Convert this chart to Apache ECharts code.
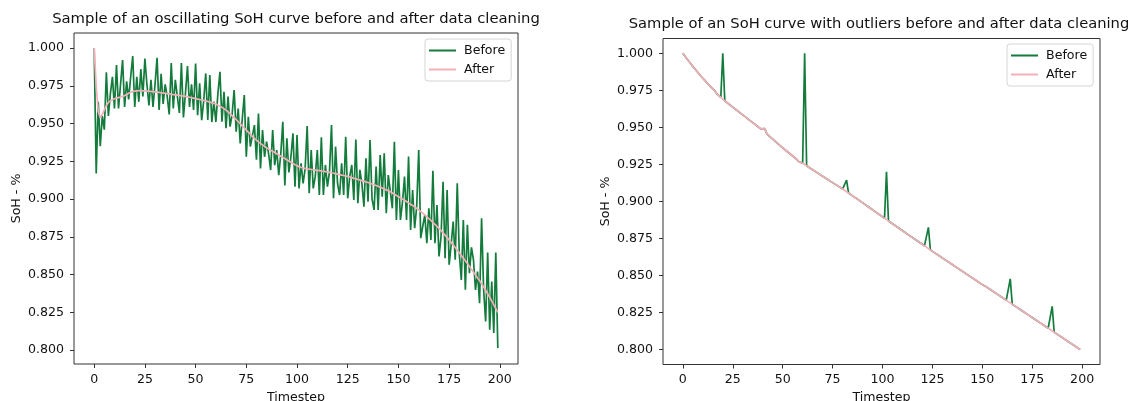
<!DOCTYPE html>
<html lang="en">
<head>
    <meta charset="UTF-8">
    <title>SoH cleaning</title>
    <script src="https://cdn.jsdelivr.net/npm/echarts@6/dist/echarts.min.js"></script>
    <style>
        html, body { margin: 0; padding: 0; background: #fff; }
        #main { width: 1132px; height: 401px; }
    </style>
</head>
<body>
<div id="main"></div>
<script>
    // oscillating curve, timesteps 0..199
    var oscBefore = [
        1.0000, 0.9170, 0.9644, 0.9350, 0.9550, 0.9460, 0.9840, 0.9550, 0.9700, 0.9810,
        0.9600, 0.9887, 0.9600, 0.9760, 0.9920, 0.9610, 0.9780, 0.9660, 0.9810, 0.9947,
        0.9610, 0.9810, 0.9644, 0.9860, 0.9680, 0.9930, 0.9760, 0.9620, 0.9790, 0.9610,
        0.9760, 0.9936, 0.9590, 0.9830, 0.9630, 0.9760, 0.9680, 0.9560, 0.9900, 0.9600,
        0.9790, 0.9680, 0.9570, 0.9900, 0.9540, 0.9700, 0.9880, 0.9610, 0.9760, 0.9590,
        0.9898, 0.9556, 0.9766, 0.9523, 0.9650, 0.9832, 0.9523, 0.9821, 0.9510, 0.9645,
        0.9510, 0.9700, 0.9843, 0.9512, 0.9711, 0.9470, 0.9678, 0.9480, 0.9560, 0.9722,
        0.9446, 0.9600, 0.9369, 0.9530, 0.9689, 0.9280, 0.9545, 0.9348, 0.9420, 0.9490,
        0.9260, 0.9567, 0.9203, 0.9457, 0.9280, 0.9380, 0.9300, 0.9192, 0.9457, 0.9225,
        0.9325, 0.9159, 0.9300, 0.9512, 0.9090, 0.9403, 0.9176, 0.9280, 0.9435, 0.9082,
        0.9424, 0.9071, 0.9237, 0.9104, 0.9200, 0.9483, 0.9038, 0.9325, 0.9071, 0.9150,
        0.9325, 0.9027, 0.9409, 0.9027, 0.9226, 0.9082, 0.9180, 0.9490, 0.9005, 0.9347,
        0.9100, 0.9027, 0.9237, 0.9027, 0.9413, 0.9005, 0.9150, 0.9226, 0.8994, 0.9395,
        0.8972, 0.9193, 0.9100, 0.8950, 0.9270, 0.8983, 0.9391, 0.9000, 0.8928, 0.9215,
        0.8928, 0.9292, 0.9016, 0.9303, 0.8906, 0.9159, 0.9050, 0.8939, 0.9380, 0.8862,
        0.9193, 0.8862, 0.8980, 0.9149, 0.8862, 0.9281, 0.8796, 0.9060, 0.8807, 0.8950,
        0.9325, 0.8741, 0.8820, 0.8895, 0.8708, 0.8939, 0.8730, 0.9188, 0.8708, 0.8961,
        0.8620, 0.8750, 0.9115, 0.8609, 0.9060, 0.8565, 0.8700, 0.8851, 0.8598, 0.9104,
        0.8640, 0.8465, 0.8862, 0.8399, 0.8829, 0.8509, 0.8680, 0.8597, 0.8399, 0.8520,
        0.8311, 0.8873, 0.8400, 0.8190, 0.8646, 0.8135, 0.8454, 0.8113, 0.8646, 0.8013
    ];
    var oscAfter = [
        1.0000, 0.9750, 0.9580, 0.9540, 0.9560, 0.9590, 0.9620, 0.9640, 0.9650, 0.9658,
        0.9664, 0.9668, 0.9672, 0.9676, 0.9680, 0.9685, 0.9692, 0.9700, 0.9707, 0.9712,
        0.9715, 0.9717, 0.9718, 0.9718, 0.9717, 0.9716, 0.9715, 0.9714, 0.9713, 0.9712,
        0.9710, 0.9708, 0.9706, 0.9704, 0.9702, 0.9700, 0.9698, 0.9696, 0.9694, 0.9692,
        0.9690, 0.9688, 0.9686, 0.9684, 0.9682, 0.9680, 0.9677, 0.9674, 0.9671, 0.9668,
        0.9665, 0.9662, 0.9659, 0.9656, 0.9653, 0.9650, 0.9646, 0.9642, 0.9638, 0.9634,
        0.9630, 0.9623, 0.9615, 0.9607, 0.9598, 0.9589, 0.9578, 0.9566, 0.9553, 0.9540,
        0.9527, 0.9513, 0.9499, 0.9485, 0.9471, 0.9457, 0.9443, 0.9429, 0.9415, 0.9402,
        0.9390, 0.9379, 0.9369, 0.9359, 0.9349, 0.9340, 0.9332, 0.9324, 0.9316, 0.9308,
        0.9300, 0.9292, 0.9284, 0.9276, 0.9268, 0.9260, 0.9252, 0.9244, 0.9236, 0.9228,
        0.9220, 0.9215, 0.9210, 0.9206, 0.9203, 0.9200, 0.9198, 0.9196, 0.9194, 0.9192,
        0.9190, 0.9188, 0.9186, 0.9184, 0.9182, 0.9180, 0.9177, 0.9174, 0.9171, 0.9168,
        0.9165, 0.9162, 0.9159, 0.9156, 0.9153, 0.9150, 0.9146, 0.9142, 0.9138, 0.9134,
        0.9130, 0.9126, 0.9122, 0.9118, 0.9114, 0.9110, 0.9105, 0.9100, 0.9095, 0.9090,
        0.9085, 0.9079, 0.9073, 0.9067, 0.9061, 0.9055, 0.9048, 0.9040, 0.9032, 0.9024,
        0.9016, 0.9008, 0.9000, 0.8992, 0.8984, 0.8975, 0.8966, 0.8957, 0.8948, 0.8938,
        0.8928, 0.8917, 0.8906, 0.8895, 0.8883, 0.8871, 0.8859, 0.8846, 0.8833, 0.8820,
        0.8806, 0.8791, 0.8776, 0.8761, 0.8745, 0.8729, 0.8713, 0.8696, 0.8679, 0.8662,
        0.8645, 0.8627, 0.8609, 0.8591, 0.8573, 0.8554, 0.8535, 0.8516, 0.8497, 0.8477,
        0.8460, 0.8440, 0.8418, 0.8396, 0.8373, 0.8350, 0.8325, 0.8300, 0.8275, 0.8250
    ];

    // outlier curve: cleaned values, plus the spikes that the raw data had
    var outAfter = [
        1.0000, 0.9982, 0.9964, 0.9946, 0.9929, 0.9912, 0.9895, 0.9879, 0.9863, 0.9847,
        0.9832, 0.9817, 0.9802, 0.9788, 0.9774, 0.9760, 0.9746, 0.9728, 0.9715, 0.9702,
        0.9690, 0.9679, 0.9668, 0.9658, 0.9647, 0.9637, 0.9626, 0.9616, 0.9605, 0.9595,
        0.9584, 0.9574, 0.9563, 0.9553, 0.9542, 0.9532, 0.9521, 0.9511, 0.9500, 0.9490,
        0.9480, 0.9492, 0.9460, 0.9445, 0.9433, 0.9421, 0.9409, 0.9397, 0.9385, 0.9374,
        0.9362, 0.9351, 0.9340, 0.9329, 0.9318, 0.9307, 0.9296, 0.9285, 0.9270, 0.9265,
        0.9258, 0.9249, 0.9241, 0.9232, 0.9223, 0.9215, 0.9206, 0.9197, 0.9188, 0.9180,
        0.9171, 0.9162, 0.9154, 0.9145, 0.9136, 0.9128, 0.9119, 0.9110, 0.9102, 0.9093,
        0.9084, 0.9074, 0.9066, 0.9057, 0.9048, 0.9038, 0.9029, 0.9020, 0.9010, 0.9001,
        0.8991, 0.8982, 0.8972, 0.8963, 0.8953, 0.8944, 0.8934, 0.8925, 0.8915, 0.8906,
        0.8896, 0.8887, 0.8878, 0.8868, 0.8859, 0.8850, 0.8840, 0.8831, 0.8822, 0.8813,
        0.8803, 0.8794, 0.8785, 0.8775, 0.8766, 0.8757, 0.8748, 0.8738, 0.8729, 0.8720,
        0.8710, 0.8701, 0.8692, 0.8682, 0.8673, 0.8664, 0.8655, 0.8646, 0.8637, 0.8628,
        0.8619, 0.8610, 0.8601, 0.8592, 0.8583, 0.8574, 0.8565, 0.8556, 0.8547, 0.8538,
        0.8529, 0.8520, 0.8511, 0.8502, 0.8493, 0.8484, 0.8475, 0.8466, 0.8457, 0.8448,
        0.8439, 0.8436, 0.8424, 0.8415, 0.8406, 0.8397, 0.8388, 0.8379, 0.8370, 0.8361,
        0.8352, 0.8343, 0.8334, 0.8325, 0.8316, 0.8307, 0.8298, 0.8289, 0.8280, 0.8271,
        0.8262, 0.8253, 0.8244, 0.8235, 0.8226, 0.8217, 0.8208, 0.8199, 0.8190, 0.8181,
        0.8172, 0.8163, 0.8154, 0.8145, 0.8136, 0.8127, 0.8118, 0.8109, 0.8100, 0.8091,
        0.8082, 0.8073, 0.8064, 0.8055, 0.8046, 0.8037, 0.8028, 0.8019, 0.8010, 0.8001
    ];
    var outlierSteps = [20, 61, 82, 102, 123, 164, 185];
    var outlierValues = [1.0000, 1.0000, 0.9145, 0.9200, 0.8825, 0.8478, 0.8292];

    var xTicks = [0, 25, 50, 75, 100, 125, 150, 175, 200];
    var yTicks = [0.800, 0.825, 0.850, 0.875, 0.900, 0.925, 0.950, 0.975, 1.000];

    var outBefore = outAfter.slice();
    for (var k = 0; k < outlierSteps.length; k++) {
        outBefore[outlierSteps[k]] = outlierValues[k];
    }

    function pairs(arr) {
        return arr.map(function (v, i) { return [i, v]; });
    }

    var green = '#137b3b';
    var pink = '#f5afba';
    var txt = '#111';
    var fs = 12.6;

    function xAx(idx) {
        return {
            type: 'value', gridIndex: idx, min: -9.95, max: 208.95,
            name: 'Timestep', nameLocation: 'middle', nameGap: 25,
            nameTextStyle: { color: txt, fontSize: fs, fontFamily: 'DejaVu Sans' },
            axisLine: { show: false, onZero: false },
            axisTick: { show: true, length: 4, customValues: xTicks, lineStyle: { color: '#333' } },
            axisLabel: { customValues: xTicks, color: txt, fontSize: fs, fontFamily: 'DejaVu Sans', margin: 9 },
            splitLine: { show: false }
        };
    }
    function yAx(idx, min, max) {
        return {
            type: 'value', gridIndex: idx, min: min, max: max,
            name: 'SoH - %', nameLocation: 'middle', nameGap: 51,
            nameTextStyle: { color: txt, fontSize: fs, fontFamily: 'DejaVu Sans' },
            axisLine: { show: false, onZero: false },
            axisTick: { show: true, length: 4, customValues: yTicks, lineStyle: { color: '#333' } },
            axisLabel: {
                customValues: yTicks, color: txt, fontSize: fs, fontFamily: 'DejaVu Sans', margin: 10,
                formatter: function (v) { return v.toFixed(3); }
            },
            splitLine: { show: false }
        };
    }
    function leg(left, top) {
        return {
            orient: 'vertical', left: left, top: top,
            data: ['Before', 'After'], icon: 'rect', itemWidth: 27, itemHeight: 2, itemGap: 6,
            padding: [5, 6, 5, 4],
            backgroundColor: 'rgba(255,255,255,0.8)', borderColor: '#d5d5d5', borderWidth: 1, borderRadius: 3,
            textStyle: { color: txt, fontSize: fs, fontFamily: 'DejaVu Sans', padding: [0, 0, 0, 3] },
            selectedMode: false
        };
    }
    function line(name, data, color, xi) {
        return {
            name: name, type: 'line', xAxisIndex: xi, yAxisIndex: xi,
            data: data, showSymbol: false, symbol: 'none',
            lineStyle: { color: color, width: 1.7 }, itemStyle: { color: color }
        };
    }

    var chart = echarts.init(document.getElementById('main'));
    chart.setOption({
        animation: false,
        title: [
            { text: 'Sample of an oscillating SoH curve before and after data cleaning', left: 296, top: 12, textAlign: 'center', padding: 0,
              textStyle: { color: txt, fontSize: 14.8, fontWeight: 'normal', fontFamily: 'DejaVu Sans' } },
            { text: 'Sample of an SoH curve with outliers before and after data cleaning', left: 879, top: 17, textAlign: 'center', padding: 0,
              textStyle: { color: txt, fontSize: 14.7, fontWeight: 'normal', fontFamily: 'DejaVu Sans' } }
        ],
        legend: [leg(425, 39), leg(1007, 44)],
        grid: [
            { left: 74, top: 33, width: 444, height: 331, outerBoundsMode: 'none', show: true, borderColor: '#333', borderWidth: 1, backgroundColor: 'transparent' },
            { left: 663, top: 38.5, width: 437, height: 326, outerBoundsMode: 'none', show: true, borderColor: '#333', borderWidth: 1, backgroundColor: 'transparent' }
        ],
        xAxis: [xAx(0), xAx(1)],
        yAxis: [yAx(0, 0.7908, 1.00996), yAx(1, 0.7900, 1.0100)],
        series: [
            line('Before', pairs(oscBefore), green, 0),
            line('After', pairs(oscAfter), pink, 0),
            line('Before', pairs(outBefore), green, 1),
            line('After', pairs(outAfter), pink, 1)
        ]
    });
</script>
</body>
</html>
